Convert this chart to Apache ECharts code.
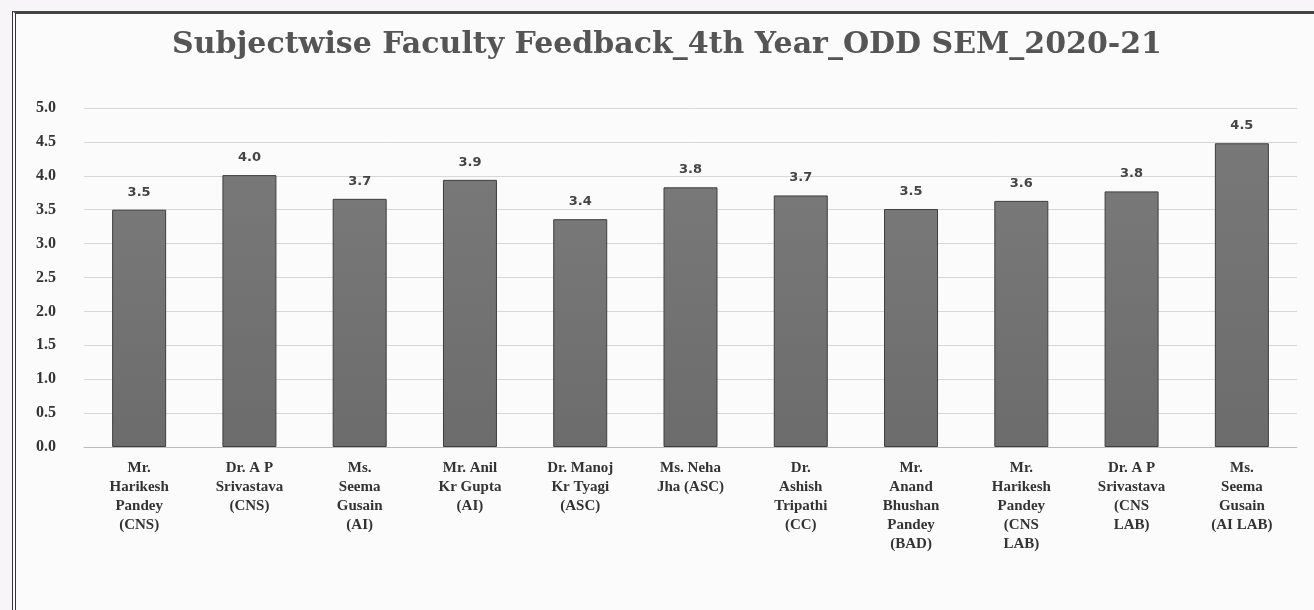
<!DOCTYPE html>
<html><head><meta charset="utf-8">
<script src="https://cdn.jsdelivr.net/npm/echarts@6/dist/echarts.min.js"></script>
<style>
html,body{margin:0;padding:0;background:#f7f5f7;}
#frame{position:absolute;left:12px;top:11px;width:1320px;height:620px;border-left:4px double #333;border-top:3px solid #444;background:#fcfbfc;}
#c{position:absolute;left:0;top:0;width:1314px;height:610px;}
</style></head><body>
<div id="frame"></div>
<div id="c"></div>
<script>
const categories = [
  "Mr.\nHarikesh\nPandey\n(CNS)",
  "Dr. A P\nSrivastava\n(CNS)",
  "Ms.\nSeema\nGusain\n(AI)",
  "Mr. Anil\nKr Gupta\n(AI)",
  "Dr. Manoj\nKr Tyagi\n(ASC)",
  "Ms. Neha\nJha (ASC)",
  "Dr.\nAshish\nTripathi\n(CC)",
  "Mr.\nAnand\nBhushan\nPandey\n(BAD)",
  "Mr.\nHarikesh\nPandey\n(CNS\nLAB)",
  "Dr. A P\nSrivastava\n(CNS\nLAB)",
  "Ms.\nSeema\nGusain\n(AI LAB)"
];
const scores = [3.50, 4.01, 3.66, 3.94, 3.36, 3.83, 3.71, 3.51, 3.63, 3.77, 4.48];
const yTicks = [0, 0.5, 1, 1.5, 2, 2.5, 3, 3.5, 4, 4.5, 5];

const chart = echarts.init(document.getElementById('c'));
chart.setOption({
  animation: false,
  title: {
    text: 'Subjectwise Faculty Feedback_4th Year_ODD SEM_2020-21',
    left: 662, textAlign: 'center', top: 25,
    textStyle: {fontFamily: 'DejaVu Serif', fontWeight: 'bold', fontSize: 30, color: '#555'}
  },
  grid: {left: 84, right: 17, top: 108, bottom: 163, containLabel: false},
  xAxis: {
    type: 'category', data: categories,
    axisLine: {lineStyle: {color: '#bbb'}},
    axisTick: {show: false},
    axisLabel: {interval: 0, margin: 12, fontFamily: 'Liberation Serif', fontWeight: 'bold', fontSize: 15, lineHeight: 19, color: '#333'}
  },
  yAxis: {
    type: 'value', min: 0, max: 5, interval: 0.5,
    axisLine: {show: false}, axisTick: {show: false},
    splitLine: {lineStyle: {color: '#d8d6d8'}},
    axisLabel: {margin: 28, fontFamily: 'Liberation Serif', fontWeight: 'bold', fontSize: 16, color: '#333',
      formatter: v => yTicks.includes(v) ? v.toFixed(1) : ''}
  },
  series: [{
    type: 'bar', data: scores, barWidth: 54,
    itemStyle: {
      color: new echarts.graphic.LinearGradient(0, 0, 0, 1, [{offset: 0, color: '#787878'}, {offset: 1, color: '#6c6c6c'}]),
      borderColor: '#3e3e3e', borderWidth: 1
    },
    label: {show: true, position: 'top', distance: 11, formatter: p => p.value.toFixed(1),
      fontFamily: 'DejaVu Sans', fontWeight: 'bold', fontSize: 13, color: '#444'}
  }]
});
</script></body></html>
